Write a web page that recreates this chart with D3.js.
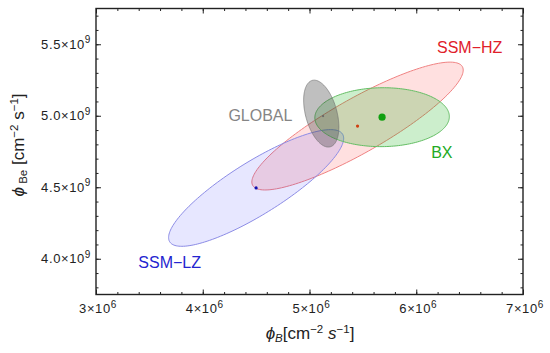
<!DOCTYPE html>
<html>
<head>
<meta charset="utf-8">
<script src="https://cdn.jsdelivr.net/npm/d3@7"></script>
<style>
body { margin: 0; background: #fff; }
text { font-family: "Liberation Sans", Arial, sans-serif; }
</style>
</head>
<body>
<div class="chart"></div>
<script>
// fit regions (centre, 1-sigma spread, correlation)
var fits = ["SSM-HZ", "SSM-LZ", "BX", "GLOBAL"];
var centreB = [5.45e6, 4.50e6, 5.68e6, 5.11e6];
var centreBe = [4.928e9, 4.495e9, 4.99e9, 5.015e9];
var sigmaB = [0.99e6, 0.82e6, 0.63e6, 0.165e6];
var sigmaBe = [0.447e9, 0.408e9, 0.206e9, 0.234e9];
var rho = [0.875, 0.85, 0.02, -0.4];
// best fit points
var bestB = [5.45e6, 4.50e6, 5.68e6, 5.127e6];
var bestBe = [4.928e9, 4.495e9, 4.99e9, 4.998e9];
// where the names sit
var labelB = [6.50e6, 3.69e6, 6.24e6, 4.54e6];
var labelBe = [5.437e9, 3.937e9, 4.704e9, 4.963e9];

var xTicks = [3, 4, 5, 6, 7];        // x 10^6
var yTicks = ["4.0", "4.5", "5.0", "5.5"]; // x 10^9

var colors = {
    "SSM-HZ": { fill: "rgba(255,0,0,0.12)", stroke: "rgb(240,130,130)", dot: "#d04010", dotR: 1.6, text: "#e0202a" },
    "SSM-LZ": { fill: "rgba(40,40,255,0.11)", stroke: "rgb(140,140,230)", dot: "#1010b0", dotR: 1.6, text: "#2424d0" },
    "BX": { fill: "rgba(0,170,0,0.2)", stroke: "rgb(100,190,100)", dot: "#10a010", dotR: 3.6, text: "#22aa22" },
    "GLOBAL": { fill: "rgba(60,60,60,0.33)", stroke: "rgba(110,110,110,0.6)", dot: "#666", dotR: 1.1, text: "#858585" }
};

var svg = d3.select(".chart").append("svg")
    .attr("width", 550).attr("height", 353);

var x = d3.scaleLinear().domain([3e6, 7e6]).range([96, 523]);
var y = d3.scaleLinear().domain([3.75e9, 5.75e9]).range([294.5, 8.5]);

// ellipses
var t = d3.range(0, 2 * Math.PI + 0.001, Math.PI / 90);
var line = d3.line();
var regions = svg.append("g");
fits.forEach(function (f, i) {
    var pts = t.map(function (a) {
        var px = centreB[i] + sigmaB[i] * Math.cos(a);
        var py = centreBe[i] + sigmaBe[i] * (rho[i] * Math.cos(a) + Math.sqrt(1 - rho[i] * rho[i]) * Math.sin(a));
        return [x(px), y(py)];
    });
    regions.append("path")
        .attr("d", line(pts) + "Z")
        .attr("fill", colors[f].fill)
        .attr("stroke", colors[f].stroke)
        .attr("stroke-width", 1);
});

svg.append("g").selectAll("circle").data(fits).enter().append("circle")
    .attr("cx", function (d, i) { return x(bestB[i]); })
    .attr("cy", function (d, i) { return y(bestBe[i]); })
    .attr("r", function (d) { return colors[d].dotR; })
    .attr("fill", function (d) { return colors[d].dot; });

svg.append("g").selectAll("text").data(fits).enter().append("text")
    .attr("x", function (d, i) { return x(labelB[i]); })
    .attr("y", function (d, i) { return y(labelBe[i]); })
    .attr("text-anchor", "middle")
    .attr("font-size", 16)
    .attr("fill", function (d) { return colors[d].text; })
    .text(function (d) { return d.replace("-", "\u2212"); });

// frame with inward ticks on all sides
var xMinor = d3.range(3e6, 7e6 + 1, 0.2e6);
var yMinor = d3.range(3.8e9, 5.75e9, 0.1e9);
var xMajor = xTicks.map(function (v) { return v * 1e6; });
var yMajor = yTicks.map(function (v) { return +v * 1e9; });

function axisPart(axis, scale, vals, size, tr) {
    var g = svg.append("g").attr("transform", tr)
        .call(axis(scale).tickValues(vals).tickSize(size).tickFormat(""));
    g.selectAll("path").remove();
    g.selectAll("line").attr("stroke", "#222").attr("stroke-width", 1);
    return g;
}
axisPart(d3.axisBottom, x, xMinor, -2.5, "translate(0,294.5)");
axisPart(d3.axisBottom, x, xMajor, -5, "translate(0,294.5)");
axisPart(d3.axisTop, x, xMinor, -2.5, "translate(0,8.5)");
axisPart(d3.axisTop, x, xMajor, -5, "translate(0,8.5)");
axisPart(d3.axisLeft, y, yMinor, -2.5, "translate(96,0)");
axisPart(d3.axisLeft, y, yMajor, -5, "translate(96,0)");
axisPart(d3.axisRight, y, yMinor, -2.5, "translate(523,0)");
axisPart(d3.axisRight, y, yMajor, -5, "translate(523,0)");

svg.append("rect")
    .attr("x", 96).attr("y", 8.5).attr("width", 427).attr("height", 286)
    .attr("fill", "none").attr("stroke", "#222").attr("stroke-width", 1.4);

// tick labels
var xl = svg.append("g").selectAll("text").data(xTicks).enter().append("text")
    .attr("x", function (d) { return x(d * 1e6) + 2; })
    .attr("y", 313)
    .attr("text-anchor", "middle")
    .attr("font-size", 13)
    .attr("letter-spacing", 0.6)
    .attr("fill", "#222");
xl.append("tspan").text(function (d) { return d + "\u00d710"; });
xl.append("tspan").attr("dy", -5.5).attr("font-size", 10).text("6");

var yl = svg.append("g").selectAll("text").data(yTicks).enter().append("text")
    .attr("x", 91)
    .attr("y", function (d) { return y(+d * 1e9) + 4.5; })
    .attr("text-anchor", "end")
    .attr("font-size", 13)
    .attr("letter-spacing", 0.6)
    .attr("fill", "#222");
yl.append("tspan").text(function (d) { return d + "\u00d710"; });
yl.append("tspan").attr("dy", -5.5).attr("font-size", 10).text("9");

// axis titles
var xt = svg.append("text")
    .attr("x", 310).attr("y", 339)
    .attr("text-anchor", "middle")
    .attr("font-size", 17).attr("fill", "#222");
xt.append("tspan").attr("font-style", "italic").text("\u03d5");
xt.append("tspan").attr("font-style", "italic").attr("font-size", 11.5).attr("dy", 3).text("B");
xt.append("tspan").attr("dy", -3).text("[cm");
xt.append("tspan").attr("font-size", 11.5).attr("dy", -6).text("\u22122");
xt.append("tspan").attr("dy", 6).text(" ");
xt.append("tspan").attr("font-style", "italic").text("s");
xt.append("tspan").attr("font-size", 11.5).attr("dy", -6).text("\u22121");
xt.append("tspan").attr("dy", 6).text("]");

var yt = svg.append("text")
    .attr("transform", "translate(24,145) rotate(-90)")
    .attr("text-anchor", "middle")
    .attr("font-size", 17).attr("fill", "#222");
yt.append("tspan").attr("font-style", "italic").text("\u03d5");
yt.append("tspan").attr("font-size", 11.5).attr("dy", 3).text(" Be");
yt.append("tspan").attr("dy", -3).text(" [cm");
yt.append("tspan").attr("font-size", 11.5).attr("dy", -6).text("\u22122");
yt.append("tspan").attr("dy", 6).text(" s");
yt.append("tspan").attr("font-size", 11.5).attr("dy", -6).text("\u22121");
yt.append("tspan").attr("dy", 6).text("]");
</script>
</body>
</html>
